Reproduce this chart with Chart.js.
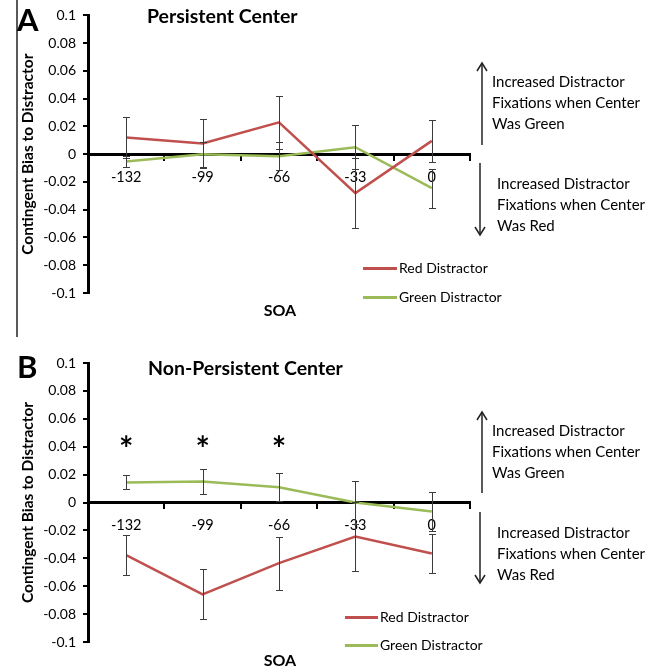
<!DOCTYPE html>
<html>
<head>
    <title>Contingent Bias to Distractor</title>
    <script src="https://cdn.jsdelivr.net/npm/chart.js"></script>
    <style>
        body { margin: 0; background: #fff; font-family: Lato, sans-serif; color: #000; }
        #wrap { position: relative; width: 666px; height: 667px; overflow: hidden; }
        canvas { position: absolute; left: 0; }
        .abs { position: absolute; white-space: nowrap; }
        .letter { font-size: 31px; font-weight: bold; line-height: 30px; }
        .title { font-size: 19.5px; font-weight: bold; line-height: 20px; }
        .note { font-size: 15px; line-height: 21px; }
        .soa { font-size: 16px; font-weight: bold; line-height: 16px; transform: translateX(-50%); }
        .leg { font-size: 14px; line-height: 16px; }
        .swatch { position: absolute; height: 3px; }
        svg { position: absolute; left: 0; top: 0; }
    </style>
</head>
<body>
<div id="wrap">
    <canvas id="chart_a" width="666" height="330" style="top:0"></canvas>
    <canvas id="chart_b" width="666" height="337" style="top:330px"></canvas>

    <svg width="666" height="667">
        <line x1="17" y1="0" x2="17" y2="337" stroke="#222" stroke-width="1.5"/>
        <g stroke="#222" stroke-width="1.5" fill="none">
            <line x1="482" y1="64" x2="482" y2="145"/><polyline points="477,71 482,63 487,71"/>
            <line x1="480" y1="163" x2="480" y2="234"/><polyline points="475,227 480,235 485,227"/>
            <line x1="482" y1="413" x2="482" y2="493"/><polyline points="477,420 482,412 487,420"/>
            <line x1="480" y1="512" x2="480" y2="582"/><polyline points="475,575 480,583 485,575"/>
        </g>
    </svg>

    <div class="abs letter" style="left:17px;top:4px">A</div>
    <div class="abs title" style="left:147px;top:6px">Persistent Center</div>
    <div class="abs note" style="left:492px;top:71px">Increased Distractor<br>Fixations when Center<br>Was Green</div>
    <div class="abs note" style="left:497px;top:173px">Increased Distractor<br>Fixations when Center<br>Was Red</div>
    <div class="swatch" style="left:363px;top:267px;width:34px;background:#C0504D"></div>
    <div class="abs leg" style="left:399px;top:260px">Red Distractor</div>
    <div class="swatch" style="left:363px;top:296px;width:34px;background:#9BBB59"></div>
    <div class="abs leg" style="left:399px;top:289px">Green Distractor</div>
    <div class="abs soa" style="left:280px;top:302px">SOA</div>

    <div class="abs letter" style="left:17px;top:351px">B</div>
    <div class="abs title" style="left:148px;top:358px">Non-Persistent Center</div>
    <div class="abs note" style="left:492px;top:420px">Increased Distractor<br>Fixations when Center<br>Was Green</div>
    <div class="abs note" style="left:497px;top:522px">Increased Distractor<br>Fixations when Center<br>Was Red</div>
    <div class="swatch" style="left:345px;top:616px;width:33px;background:#C0504D"></div>
    <div class="abs leg" style="left:380px;top:609px">Red Distractor</div>
    <div class="swatch" style="left:345px;top:644px;width:33px;background:#9BBB59"></div>
    <div class="abs leg" style="left:380px;top:637px">Green Distractor</div>
    <div class="abs soa" style="left:280px;top:652px">SOA</div>
</div>
<script>
    // SOA categories
    const soaLabels = ['-132', '-99', '-66', '-33', '0'];

    // panel A: persistent center
    const redA = [0.012, 0.0077, 0.023, -0.028, 0.0096];
    const redAErr = [0.0146, 0.018, 0.019, 0.025, 0.015];
    const greenA = [-0.0053, 0, -0.0014, 0.005, -0.0245];
    const greenAErr = [0.004, 0.009, 0.01, 0.016, 0.014];

    // panel B: non-persistent center
    const redB = [-0.0378, -0.0658, -0.0435, -0.0244, -0.0366];
    const redBErr = [0.0145, 0.018, 0.019, 0.0246, 0.014];
    const greenB = [0.0144, 0.015, 0.011, 0, -0.0065];
    const greenBErr = [0.005, 0.009, 0.0102, 0.0153, 0.0137];

    // significance markers (panel B)
    const starsB = ['-132', '-99', '-66'];
    const starLevel = 0.044;

    const RED = '#C0504D';
    const GREEN = '#9BBB59';

    const errorBars = {
        id: 'errorBars',
        afterDatasetsDraw(chart) {
            const ctx = chart.ctx;
            const xs = chart.scales.x, ys = chart.scales.y;
            ctx.save();
            ctx.strokeStyle = '#3c3c3c';
            ctx.lineWidth = 1;
            chart.data.datasets.forEach(function (ds) {
                ds.data.forEach(function (v, i) {
                    const px = Math.round(xs.getPixelForValue(i)) + 0.5;
                    const t = Math.round(ys.getPixelForValue(v + ds.errors[i])) + 0.5;
                    const b = Math.round(ys.getPixelForValue(v - ds.errors[i])) + 0.5;
                    ctx.beginPath();
                    ctx.moveTo(px, t); ctx.lineTo(px, b);
                    ctx.moveTo(px - 3.5, t); ctx.lineTo(px + 3.5, t);
                    ctx.moveTo(px - 3.5, b); ctx.lineTo(px + 3.5, b);
                    ctx.stroke();
                });
            });
            ctx.restore();
        }
    };

    const stars = {
        id: 'stars',
        afterDatasetsDraw(chart, args, opts) {
            if (!opts.at || !opts.at.length) return;
            const ctx = chart.ctx;
            ctx.save();
            ctx.font = 'bold 34px Lato';
            ctx.fillStyle = '#000';
            ctx.textAlign = 'center';
            ctx.textBaseline = 'alphabetic';
            const m = ctx.measureText('*');
            const yc = chart.scales.y.getPixelForValue(opts.level);
            opts.at.forEach(function (lab) {
                const px = chart.scales.x.getPixelForValue(soaLabels.indexOf(lab));
                ctx.fillText('*', px, yc + (m.actualBoundingBoxAscent - m.actualBoundingBoxDescent) / 2);
            });
            ctx.restore();
        }
    };

    function addChart(_element_id, _red, _redErr, _green, _greenErr, _pad, _stars) {
        const ctx = document.getElementById(_element_id);
        return new Chart(ctx, {
            type: 'line',
            data: {
                labels: soaLabels,
                datasets: [
                    { label: 'Red Distractor', data: _red, errors: _redErr, borderColor: RED, borderWidth: 2.5, pointRadius: 0, tension: 0 },
                    { label: 'Green Distractor', data: _green, errors: _greenErr, borderColor: GREEN, borderWidth: 2.5, pointRadius: 0, tension: 0 }
                ]
            },
            options: {
                responsive: false,
                animation: false,
                devicePixelRatio: 1,
                layout: { padding: _pad },
                plugins: {
                    legend: { display: false },
                    tooltip: { enabled: false },
                    stars: { at: _stars, level: starLevel }
                },
                scales: {
                    x: {
                        type: 'category',
                        position: { y: 0 },
                        offset: true,
                        border: { color: '#000', width: 3 },
                        grid: { drawOnChartArea: false, drawTicks: true, tickLength: 5, color: '#000', lineWidth: 2, offset: true },
                        ticks: { color: '#000', font: { family: 'Lato', size: 14.5 }, padding: 9, maxRotation: 0 }
                    },
                    y: {
                        min: -0.1,
                        max: 0.1,
                        afterFit: function (scale) { scale.width = 71; },
                        border: { color: '#000', width: 3 },
                        grid: { drawOnChartArea: false, drawTicks: true, tickLength: 5, color: '#000', lineWidth: 2 },
                        ticks: {
                            stepSize: 0.02,
                            color: '#000',
                            padding: 7,
                            font: { family: 'Lato', size: 14 },
                            callback: function (v) { return String(Number(v.toFixed(2))); }
                        },
                        title: {
                            display: true,
                            text: 'Contingent Bias to Distractor',
                            color: '#000',
                            font: { family: 'Lato', size: 15.5, weight: 'bold' },
                            padding: { top: 2, bottom: 2 }
                        }
                    }
                }
            },
            plugins: [errorBars, stars]
        });
    }

    const chart_a = addChart('chart_a', redA, redAErr, greenA, greenAErr, { left: 17, right: 196, top: 14, bottom: 37 }, []);
    const chart_b = addChart('chart_b', redB, redBErr, greenB, greenBErr, { left: 17, right: 196, top: 33, bottom: 25 }, starsB);
</script>
</body>
</html>
